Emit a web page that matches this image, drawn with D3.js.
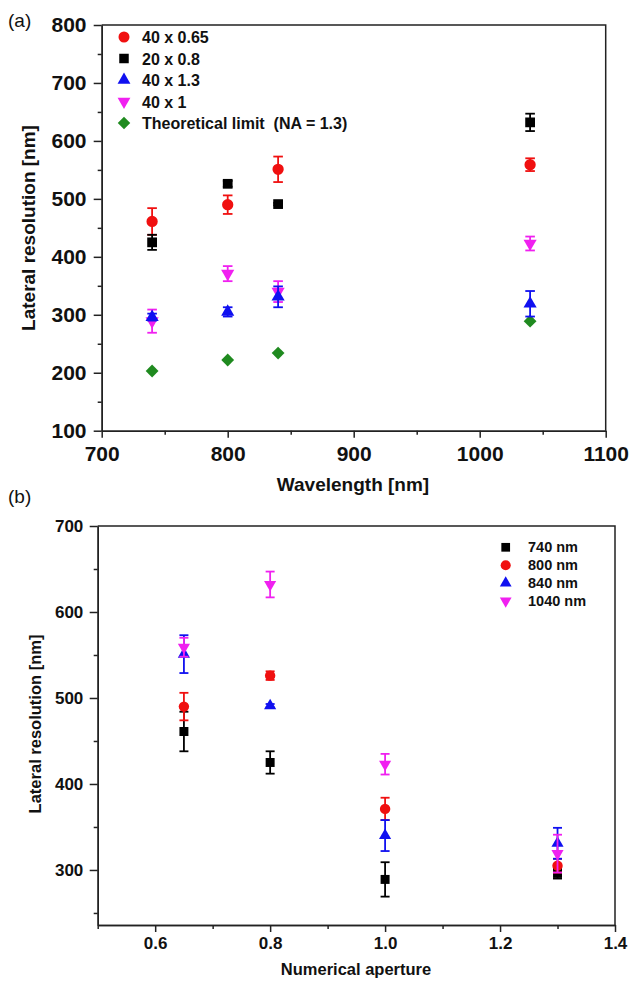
<!DOCTYPE html>
<html>
<head>
<meta charset="utf-8">
<script src="https://cdn.jsdelivr.net/npm/d3@7"></script>
<style>
  body { margin: 0; background: #fff; }
  svg text { font-family: "Liberation Sans", Arial, sans-serif; }
</style>
</head>
<body>
<svg id="fig"></svg>
<script>
// data
const wavelengths = [740, 800, 840, 1040];
const objectives = ["40 x 0.65", "20 x 0.8", "40 x 1.3", "40 x 1"];
const apertures = [0.65, 0.8, 1.3, 1.0];
const res_40x065 = [461, 490, 551, 559];
const err_40x065 = [23, 16, 22, 11];
const res_20x08 = [425, 526, 491, 632];
const err_20x08 = [13, 5, 2, 15];
const res_40x13 = [296, 305, 331, 319];
const err_40x13 = [6, 8, 18, 22];
const res_40x1 = [289, 371, 340, 423];
const err_40x1 = [20, 13, 18, 12];
const theoretical = [203, 222, 234, 289];

const wlLabels = ["740 nm", "800 nm", "840 nm", "1040 nm"];

const xTicksA = [700, 800, 900, 1000, 1100];
const yTicksA = [100, 200, 300, 400, 500, 600, 700, 800];
const xTicksB = [0.6, 0.8, 1.0, 1.2, 1.4];
const yTicksB = [300, 400, 500, 600, 700];

const W = 633, H = 982;
const svg = d3.select("#fig").attr("width", W).attr("height", H);

const RED = "#f01010", BLACK = "#000", BLUE = "#1010f0", MAG = "#f020f0", GREEN = "#1f8a1f";

const objSeries = [
  {name: objectives[0], vals: res_40x065, errs: err_40x065, color: RED, shape: "circle"},
  {name: objectives[1], vals: res_20x08, errs: err_20x08, color: BLACK, shape: "square"},
  {name: objectives[2], vals: res_40x13, errs: err_40x13, color: BLUE, shape: "up"},
  {name: objectives[3], vals: res_40x1, errs: err_40x1, color: MAG, shape: "down"}
];

function symPath(shape, k) {
  k = k || 1;
  if (shape == "circle") return d3.symbol(d3.symbolCircle, 100 * k)();
  if (shape == "square") return d3.symbol(d3.symbolSquare, 95 * k)();
  if (shape == "diamond") return d3.symbol(d3.symbolSquare, 82 * k)();
  return d3.symbol(d3.symbolTriangle, 75 * k)();
}
function symRot(shape) {
  if (shape == "down") return 180;
  if (shape == "diamond") return 45;
  return 0;
}

function frame(g, x, y, xMajor, xMinor, yMajor, yMinor, fs, xfmt, yfmt, xdy) {
  const [x0, x1] = x.range(), [y0, y1] = y.range();
  const ax = g.append("g").attr("transform", `translate(0,${y0})`)
    .call(d3.axisBottom(x).tickValues(xMajor).tickSize(7).tickSizeOuter(0).tickFormat(xfmt));
  g.append("g").attr("transform", `translate(0,${y0})`)
    .call(d3.axisBottom(x).tickValues(xMinor).tickSize(4).tickSizeOuter(0).tickFormat(""));
  const ay = g.append("g").attr("transform", `translate(${x0},0)`)
    .call(d3.axisLeft(y).tickValues(yMajor).tickSize(8).tickSizeOuter(0).tickFormat(yfmt));
  g.append("g").attr("transform", `translate(${x0},0)`)
    .call(d3.axisLeft(y).tickValues(yMinor).tickSize(4).tickSizeOuter(0).tickFormat(""));
  g.selectAll(".domain, .tick line").attr("stroke", "#222").attr("stroke-width", 1.5);
  ax.selectAll("text").attr("font-size", fs).attr("font-weight", "bold").attr("fill", "#111").attr("dy", xdy);
  ay.selectAll("text").attr("font-size", fs).attr("font-weight", "bold").attr("fill", "#111").attr("dx", "-0.2em");
  g.append("path")
    .attr("d", `M${x0},${y1}H${x1}V${y0}`)
    .attr("fill", "none").attr("stroke", "#222").attr("stroke-width", 1.5);
}

function drawPoints(g, pts, color, shape, k, cap) {
  const eg = g.append("g").attr("stroke", color).attr("stroke-width", 1.8);
  pts.forEach(p => {
    if (p.e > 0) {
      eg.append("line").attr("x1", p.x).attr("x2", p.x).attr("y1", p.yl).attr("y2", p.yh);
      eg.append("line").attr("x1", p.x - cap).attr("x2", p.x + cap).attr("y1", p.yl).attr("y2", p.yl);
      eg.append("line").attr("x1", p.x - cap).attr("x2", p.x + cap).attr("y1", p.yh).attr("y2", p.yh);
    }
  });
  g.append("g").selectAll("path").data(pts).join("path")
    .attr("d", symPath(shape, k))
    .attr("transform", p => `translate(${p.x},${p.y}) rotate(${symRot(shape)})`)
    .attr("fill", color);
}

// ---------- (a) ----------
const xa = d3.scaleLinear().domain([700, 1100]).range([101.7, 605.7]);
const ya = d3.scaleLinear().domain([100, 800]).range([430.7, 25]);
const ga = svg.append("g");
frame(ga, xa, ya, xTicksA, [750, 850, 950, 1050], yTicksA,
      [150, 250, 350, 450, 550, 650, 750], 21, d3.format("d"), d3.format("d"), "0.95em");

drawPoints(ga, wavelengths.map((w, i) => ({x: xa(w), y: ya(theoretical[i]), e: 0})), GREEN, "diamond", 1, 4.5);
[0, 1, 3, 2].forEach(si => {
  const s = objSeries[si];
  const pts = wavelengths.map((w, i) => ({
    x: xa(w), y: ya(s.vals[i]), e: s.errs[i],
    yl: ya(s.vals[i] - s.errs[i]), yh: ya(s.vals[i] + s.errs[i])
  }));
  drawPoints(ga, pts, s.color, s.shape, 1, 4.8);
});

// legend (a)
const legA = objSeries.map(s => ({name: s.name, color: s.color, shape: s.shape}))
  .concat([{name: "Theoretical limit  (NA = 1.3)", color: GREEN, shape: "diamond"}]);
legA.forEach((d, i) => {
  const yy = 37 + i * 21.5;
  ga.append("path").attr("d", symPath(d.shape, 0.95))
    .attr("transform", `translate(124,${yy}) rotate(${symRot(d.shape)})`)
    .attr("fill", d.color);
  ga.append("text").attr("x", 142).attr("y", yy + 6).text(d.name)
    .attr("font-size", 16).attr("font-weight", "bold").attr("fill", "#111")
    .style("white-space", "pre");
});

ga.append("text").attr("x", 353).attr("y", 491).attr("text-anchor", "middle")
  .attr("font-size", 19).attr("font-weight", "bold").attr("fill", "#111").text("Wavelength [nm]");
ga.append("text").attr("transform", "translate(35,228) rotate(-90)").attr("text-anchor", "middle")
  .attr("font-size", 19).attr("font-weight", "bold").attr("fill", "#111").text("Lateral resolution [nm]");
ga.append("text").attr("x", 8).attr("y", 27).attr("font-size", 19).attr("fill", "#111").text("(a)");

// ---------- (b) ----------
const xb = d3.scaleLinear().domain([0.5, 1.4]).range([97.7, 615]);
const yb = d3.scaleLinear().domain([236, 700]).range([925, 526]);
const gb = svg.append("g");
frame(gb, xb, yb, xTicksB, [0.5, 0.7, 0.9, 1.1, 1.3], yTicksB,
      [250, 350, 450, 550, 650], 17, d3.format(".1f"), d3.format("d"), "0.8em");

const wlSeries = [
  {color: BLACK, shape: "square"},
  {color: RED, shape: "circle"},
  {color: BLUE, shape: "up"},
  {color: MAG, shape: "down"}
];
wlSeries.forEach((s, wi) => {
  const pts = objSeries.map((o, oi) => ({
    x: xb(apertures[oi]), y: yb(o.vals[wi]), e: o.errs[wi],
    yl: yb(o.vals[wi] - o.errs[wi]), yh: yb(o.vals[wi] + o.errs[wi])
  }));
  drawPoints(gb, pts, s.color, s.shape, 0.85, 4.5);
});

wlSeries.forEach((s, i) => {
  const yy = 547.3 + i * 17.9;
  gb.append("path").attr("d", symPath(s.shape, 0.8))
    .attr("transform", `translate(505.7,${yy}) rotate(${symRot(s.shape)})`)
    .attr("fill", s.color);
  gb.append("text").attr("x", 528).attr("y", yy + 5).text(wlLabels[i])
    .attr("font-size", 14.5).attr("font-weight", "bold").attr("fill", "#111");
});

gb.append("text").attr("x", 356).attr("y", 975).attr("text-anchor", "middle")
  .attr("font-size", 16.5).attr("font-weight", "bold").attr("fill", "#111").text("Numerical aperture");
gb.append("text").attr("transform", "translate(41,724) rotate(-90)").attr("text-anchor", "middle")
  .attr("font-size", 16.5).attr("font-weight", "bold").attr("fill", "#111").text("Lateral resolution [nm]");
gb.append("text").attr("x", 8).attr("y", 503).attr("font-size", 19).attr("fill", "#111").text("(b)");
</script>
</body>
</html>
